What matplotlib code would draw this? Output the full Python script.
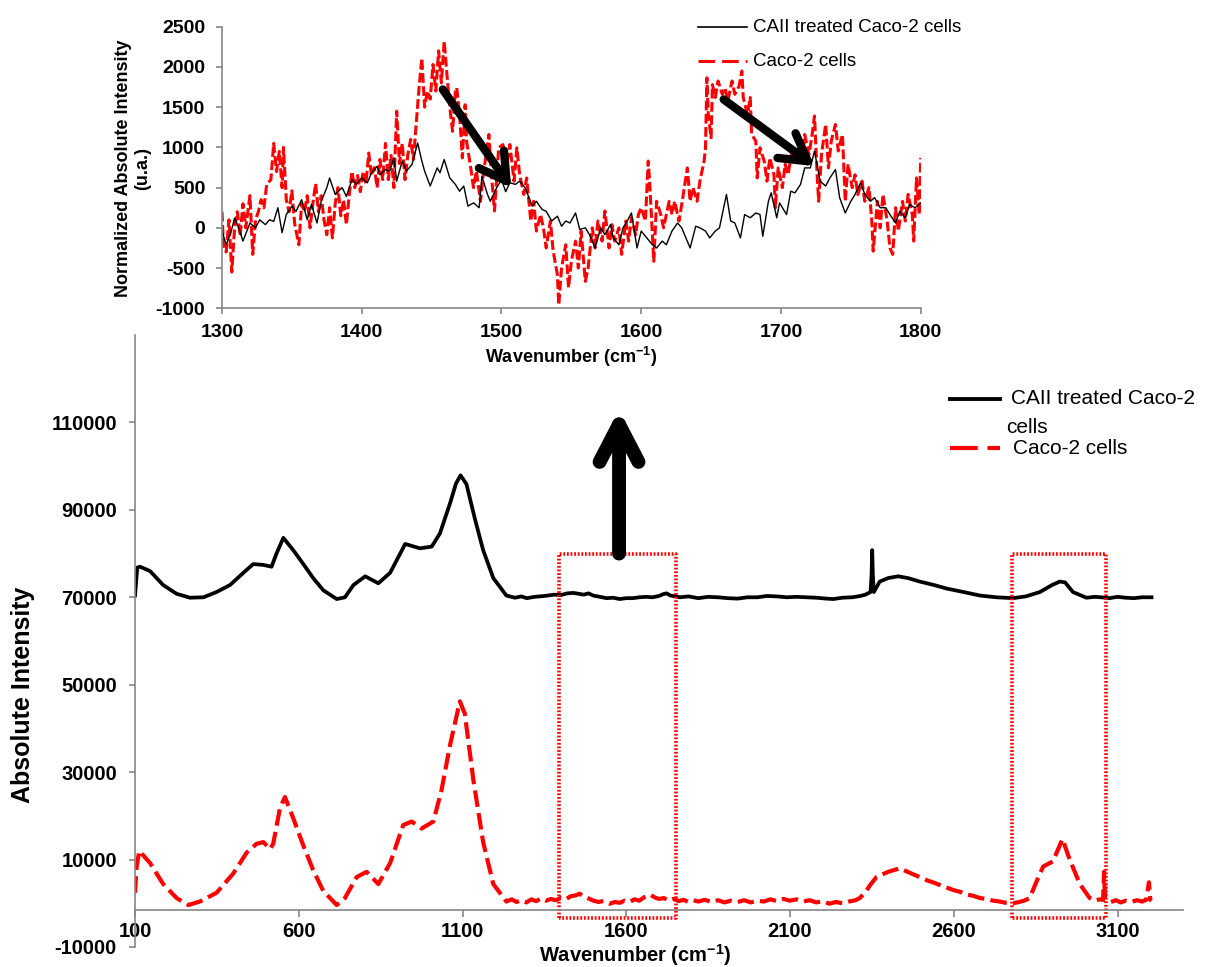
import matplotlib
matplotlib.use("Agg")
import matplotlib.pyplot as plt
from matplotlib.lines import Line2D

# ---------------- data ----------------
# main spectrum: CAII treated Caco-2 cells (wavenumber, absolute intensity)
treated_main = [
    (100, 70400), (107, 76800), (115, 77000), (146, 76000), (186, 72800), (227, 70800),
    (268, 69900), (309, 70000), (349, 71200), (390, 72800), (431, 75600), (461, 77600),
    (492, 77400), (517, 77000), (532, 80000), (553, 83600), (583, 80800), (614, 77600),
    (644, 74400), (675, 71600), (716, 69600), (741, 70000), (767, 72800), (803, 74800),
    (843, 73200), (879, 75600), (925, 82200), (970, 81200), (1006, 81600), (1031, 84600),
    (1062, 91500), (1080, 96000), (1094, 97900), (1112, 95900), (1138, 87900), (1163, 80800),
    (1194, 74400), (1234, 70400), (1260, 69900), (1280, 70200), (1296, 69800), (1320, 70100),
    (1350, 70300), (1380, 70600), (1400, 70500), (1420, 70900), (1438, 71000), (1455, 70800),
    (1470, 70600), (1485, 70900), (1499, 70400), (1520, 70100), (1540, 69800), (1560, 69900),
    (1580, 69600), (1600, 69800), (1620, 69800), (1640, 70000), (1660, 70100), (1680, 70000),
    (1700, 70300), (1712, 70700), (1723, 70900), (1735, 70400), (1750, 70200), (1764, 70000),
    (1790, 70200), (1820, 69800), (1850, 70100), (1880, 70000), (1910, 69800), (1940, 69700),
    (1970, 70000), (2000, 70000), (2030, 70300), (2060, 70200), (2090, 70000), (2120, 70100),
    (2150, 70000), (2180, 69900), (2210, 69700), (2232, 69600), (2260, 69900), (2290, 70000),
    (2315, 70300), (2330, 70600), (2346, 71200), (2349, 75000), (2351, 80800), (2353, 75000),
    (2356, 71200), (2374, 73600), (2400, 74400), (2430, 74800), (2460, 74400), (2496, 73600),
    (2540, 72800), (2578, 72000), (2630, 71200), (2680, 70400), (2730, 70000), (2781, 69800),
    (2820, 70200), (2863, 71200), (2900, 72800), (2924, 73600), (2940, 73400), (2964, 71200),
    (3005, 69900), (3030, 70100), (3050, 70000), (3075, 69800), (3100, 70100), (3125, 69900),
    (3150, 69800), (3175, 70000), (3204, 70000),
]

# main spectrum: Caco-2 cells
control_main = [
    (100, 2400), (105, 8400), (113, 12000), (146, 9200), (186, 4400), (227, 1200),
    (263, -400), (298, 400), (349, 2400), (400, 6800), (441, 11600), (471, 13600),
    (492, 14000), (512, 12400), (522, 13600), (543, 21900), (558, 24300), (583, 19500),
    (614, 13200), (644, 7600), (675, 2800), (716, -400), (741, 1200), (777, 6000),
    (807, 7200), (843, 4400), (879, 9200), (919, 17900), (945, 18700), (975, 17100),
    (1011, 18700), (1036, 25900), (1062, 36200), (1092, 46200), (1107, 43400), (1133, 28300),
    (1163, 14000), (1194, 4400), (1234, 400), (1250, 900), (1265, 300), (1280, 700),
    (1295, 200), (1310, 900), (1325, 500), (1340, 1100), (1355, 600), (1370, 1000),
    (1385, 700), (1400, 1200), (1415, 900), (1430, 1600), (1445, 1800), (1458, 2200),
    (1470, 1500), (1485, 1100), (1500, 600), (1515, 300), (1530, 500), (1550, -100),
    (1565, 300), (1580, 100), (1595, 600), (1610, 300), (1625, 900), (1640, 600),
    (1655, 1400), (1672, 2000), (1688, 1300), (1700, 1000), (1715, 1200), (1730, 600),
    (1745, 1000), (1760, 500), (1775, 800), (1790, 300), (1805, 700), (1820, 400),
    (1840, 800), (1860, 300), (1880, 700), (1900, 200), (1920, 600), (1940, 300),
    (1960, 700), (1980, 200), (2000, 600), (2020, 400), (2040, 900), (2060, 500),
    (2080, 1000), (2100, 600), (2120, 900), (2140, 400), (2160, 700), (2180, 200),
    (2200, 500), (2220, -100), (2240, 300), (2260, 0), (2280, 400), (2300, 700),
    (2313, 1200), (2330, 2500), (2345, 4200), (2364, 6000), (2400, 7200), (2435, 8000),
    (2465, 7000), (2496, 6000), (2520, 5200), (2540, 4700), (2560, 4100), (2578, 3600),
    (2600, 3000), (2620, 2600), (2640, 2000), (2660, 1700), (2680, 1200), (2700, 1000),
    (2720, 600), (2740, 400), (2760, 100), (2781, 0), (2800, 300), (2815, 600),
    (2832, 1200), (2850, 4500), (2873, 8400), (2903, 9600), (2932, 14700), (2954, 10000),
    (2985, 4400), (3015, 1200), (3030, 600), (3045, 900), (3056, 800), (3059, 7200),
    (3062, 800), (3080, 300), (3095, 700), (3110, 200), (3125, 600), (3140, 300),
    (3160, 700), (3175, 400), (3188, 800), (3196, 4800), (3200, 800), (3204, 600),
]

# inset (1300-1800 cm-1), normalized absolute intensity
treated_inset = [
    (1300, -40), (1303, -210), (1306, -80), (1309, 120), (1312, 0), (1315, -165), (1320, 60),
    (1324, 0), (1327, 100), (1331, 40), (1334, 100), (1337, 80), (1340, 250), (1343, -60),
    (1346, 165), (1350, 270), (1353, 205), (1357, 350), (1361, 100), (1364, 290), (1368, 60),
    (1371, 330), (1375, 500), (1377, 620), (1381, 415), (1386, 500), (1389, 390), (1393, 600),
    (1396, 540), (1400, 620), (1404, 560), (1407, 685), (1411, 765), (1413, 660), (1417, 725),
    (1420, 705), (1423, 870), (1425, 580), (1429, 830), (1432, 705), (1436, 790), (1440, 1055),
    (1443, 830), (1445, 705), (1449, 520), (1454, 745), (1456, 685), (1459, 850), (1463, 620),
    (1467, 540), (1470, 455), (1473, 520), (1476, 270), (1480, 310), (1484, 250), (1486, 640),
    (1490, 415), (1492, 330), (1496, 480), (1500, 600), (1503, 450), (1506, 560), (1510, 540),
    (1513, 580), (1517, 495), (1522, 270), (1525, 330), (1529, 230), (1532, 205), (1536, 85),
    (1540, 145), (1543, 20), (1546, 85), (1549, 60), (1553, 185), (1556, -20), (1560, 0),
    (1563, -85), (1567, -250), (1571, 0), (1574, -85), (1578, 40), (1580, -125), (1584, -210),
    (1587, 0), (1590, 85), (1593, 185), (1597, -250), (1600, -40), (1604, -125), (1608, -210),
    (1611, -250), (1615, -165), (1618, -210), (1622, -40), (1626, 60), (1629, 0), (1631, -85),
    (1635, -250), (1639, 20), (1642, 0), (1646, -40), (1649, -125), (1653, -40), (1656, 0),
    (1661, 415), (1664, 85), (1667, 60), (1671, -125), (1674, 165), (1678, 125), (1682, 185),
    (1685, 165), (1687, -105), (1691, 330), (1693, 435), (1697, 125), (1699, 310), (1704, 165),
    (1707, 455), (1710, 435), (1714, 540), (1717, 745), (1721, 745), (1724, 955), (1728, 580),
    (1732, 520), (1735, 620), (1739, 725), (1742, 375), (1746, 185), (1750, 330), (1753, 415),
    (1757, 560), (1760, 415), (1764, 330), (1767, 375), (1771, 250), (1775, 250), (1778, 165),
    (1782, 60), (1785, 205), (1789, 125), (1792, 290), (1796, 250), (1800, 310),
]

control_inset = [
    (1300, 200), (1301, -200), (1303, -300), (1305, 100), (1307, -550), (1309, 0), (1311, 200),
    (1313, -100), (1315, 300), (1317, 0), (1320, 400), (1322, -330), (1324, 100), (1326, 200),
    (1328, 350), (1330, 250), (1332, 540), (1335, 600), (1337, 1050), (1339, 700), (1341, 950),
    (1343, 500), (1344, 1000), (1346, 350), (1348, 200), (1350, 460), (1352, 50), (1355, -210),
    (1357, 300), (1359, 200), (1361, 400), (1363, 0), (1365, 300), (1367, 550), (1369, 200),
    (1371, 400), (1373, 100), (1375, -85), (1377, 250), (1379, -125), (1381, 300), (1383, 500),
    (1385, 150), (1387, 350), (1389, 40), (1391, 400), (1393, 700), (1395, 500), (1397, 650),
    (1399, 450), (1401, 700), (1403, 550), (1405, 930), (1407, 650), (1409, 750), (1411, 500),
    (1413, 850), (1415, 600), (1417, 1050), (1419, 600), (1421, 900), (1423, 500), (1425, 1450),
    (1427, 800), (1429, 1050), (1431, 600), (1433, 910), (1435, 1100), (1437, 850), (1439, 1290),
    (1441, 1740), (1443, 2110), (1445, 1500), (1447, 1700), (1449, 1600), (1451, 2030), (1453, 1700),
    (1455, 2200), (1457, 1800), (1459, 2320), (1461, 1900), (1463, 1500), (1465, 1200), (1467, 1700),
    (1468, 1740), (1470, 1410), (1472, 870), (1474, 1530), (1475, 1080), (1478, 745), (1480, 500),
    (1482, 705), (1485, 330), (1487, 660), (1491, 1160), (1493, 620), (1495, 210), (1498, 995),
    (1501, 1035), (1504, 790), (1506, 1035), (1509, 580), (1511, 995), (1513, 660), (1516, 415),
    (1518, 620), (1521, 85), (1523, 330), (1525, -40), (1528, 165), (1530, 0), (1532, -250),
    (1535, 85), (1537, -290), (1540, -580), (1541, -955), (1543, -500), (1546, -210), (1548, -745),
    (1550, -415), (1553, -165), (1555, -500), (1557, -40), (1560, -665), (1562, -500), (1565, 0),
    (1567, -250), (1569, 85), (1572, -165), (1574, 210), (1577, -250), (1579, 40), (1581, -165),
    (1584, 0), (1586, -330), (1589, 85), (1591, -165), (1593, 125), (1596, -85), (1598, 165),
    (1600, 250), (1603, 85), (1605, 830), (1606, 580), (1609, -415), (1611, 330), (1614, 165),
    (1616, 0), (1620, 330), (1622, 165), (1624, 330), (1627, 85), (1629, 290), (1633, 745),
    (1635, 330), (1637, 500), (1640, 330), (1642, 580), (1645, 830), (1646, 995), (1647, 1865),
    (1648, 1410), (1650, 1120), (1651, 1780), (1653, 1620), (1655, 1825), (1658, 1660), (1660, 1740),
    (1662, 1575), (1665, 1825), (1667, 1660), (1670, 1760), (1672, 1950), (1673, 1620), (1676, 1410),
    (1678, 1620), (1679, 1160), (1682, 1080), (1683, 620), (1685, 995), (1688, 830), (1690, 580),
    (1692, 870), (1695, 660), (1696, 250), (1698, 745), (1701, 500), (1703, 790), (1705, 660),
    (1708, 955), (1710, 830), (1713, 995), (1715, 790), (1717, 1160), (1720, 910), (1722, 1120),
    (1724, 1390), (1726, 620), (1727, 330), (1729, 910), (1732, 1285), (1734, 745), (1736, 1080),
    (1739, 1285), (1741, 955), (1744, 1160), (1746, 330), (1748, 790), (1751, 500), (1753, 660),
    (1755, 415), (1758, 580), (1760, 330), (1763, 500), (1765, 85), (1766, -290), (1769, 330),
    (1771, 0), (1773, 415), (1776, 85), (1778, -250), (1780, -330), (1782, 250), (1784, -40),
    (1787, 330), (1789, 85), (1791, 415), (1794, 165), (1795, -165), (1797, 620), (1799, 165),
    (1800, 870),
]

main_xticks = [100, 600, 1100, 1600, 2100, 2600, 3100]
main_yticks = [-10000, 10000, 30000, 50000, 70000, 90000, 110000]
inset_xticks = [1300, 1400, 1500, 1600, 1700, 1800]
inset_yticks = [-1000, -500, 0, 500, 1000, 1500, 2000, 2500]

series_labels = ["CAII treated Caco-2 cells", "Caco-2 cells"]

# highlighted spectral windows (wavenumber ranges) and arrows
zoom_windows = [(1394, 1751), (2779, 3066)]
inset_arrows = [((1458, 1720), (1507, 497)), ((1659, 1596), (1724, 767))]

# ---------------- style ----------------
plt.rcParams['font.family'] = ['Liberation Sans', 'DejaVu Sans']
plt.rcParams['mathtext.fontset'] = 'custom'
plt.rcParams['mathtext.rm'] = 'Liberation Sans'
plt.rcParams['mathtext.bf'] = 'Liberation Sans:bold'
plt.rcParams['lines.scale_dashes'] = False
plt.rcParams['axes.unicode_minus'] = False

W, H = 1218, 967
fig = plt.figure(figsize=(W / 100, H / 100), dpi=100)


def fx(p):
    return p / W


def fy(p):
    return 1 - p / H


AXCOL = '#868686'

# ---------------- main axes ----------------
ax = fig.add_axes([fx(135), fy(947), fx(1183) - fx(135), fy(335) - fy(947)])
bx, by = zip(*treated_main)
rx, ry = zip(*control_main)
ax.plot(rx, ry, color='red', lw=3.0, linestyle=(0, (12, 4.5)))
ax.plot(bx, by, color='black', lw=2.7, solid_joinstyle='round')
ax.set_xlim(100, 3300)
ax.set_ylim(-10000, 130000)
ax.set_xticks(main_xticks)
ax.set_yticks(main_yticks)
for s in ['top', 'right']:
    ax.spines[s].set_visible(False)
ax.spines['bottom'].set_position(('data', -1500))
for s in ['bottom', 'left']:
    ax.spines[s].set_color(AXCOL)
    ax.spines[s].set_linewidth(1.2)
ax.tick_params(axis='x', direction='out', length=5, width=1.2, color=AXCOL, pad=4, labelsize=14.5)
ax.tick_params(axis='y', direction='out', length=4, width=1.2, color=AXCOL, pad=9, labelsize=14.5)
for lbl in ax.get_xticklabels() + ax.get_yticklabels():
    lbl.set_fontweight('bold')

# dotted windows
for (x0, x1) in zoom_windows:
    ax.plot([x0, x0, x1, x1, x0], [-3400, 80000, 80000, -3400, -3400], color='red',
            lw=2.6, linestyle=(0, (1.3, 1.3)), clip_on=False)

# big upward arrow
ax.annotate('', xy=(1578, 113000), xytext=(1578, 80000),
            arrowprops=dict(arrowstyle='->,head_length=1.35,head_width=0.7', lw=10,
                            color='black', mutation_scale=20, shrinkA=0, shrinkB=0,
                            capstyle='round', joinstyle='round'))

fig.text(fx(23), fy(695), 'Absolute Intensity', rotation=90, ha='center', va='center',
         fontsize=18, fontweight='bold')
fig.text(fx(635), fy(955), r'Wavenumber (cm$^{\mathbf{-1}}$)', ha='center', va='center',
         fontsize=14.5, fontweight='bold')

# main legend (manual)
fig.add_artist(Line2D([fx(950), fx(1000)], [fy(399), fy(399)], color='black', lw=2.8))
fig.text(fx(1011), fy(399), 'CAII treated Caco-2', ha='left', va='center', fontsize=15)
fig.text(fx(1006), fy(428), 'cells', ha='left', va='center', fontsize=15)
fig.add_artist(Line2D([fx(950), fx(1000)], [fy(448), fy(448)], color='red', lw=3,
                      linestyle=(0, (20, 7))))
fig.text(fx(1013), fy(448), series_labels[1], ha='left', va='center', fontsize=15)

# ---------------- inset axes ----------------
axi = fig.add_axes([fx(222), fy(308.3), fx(920.7) - fx(222), fy(26.7) - fy(308.3)])
ibx, iby = zip(*treated_inset)
irx, iry = zip(*control_inset)
axi.plot(irx, iry, color='red', lw=2.2, linestyle=(0, (7, 2.5)))
axi.plot(ibx, iby, color='black', lw=1.0)
axi.set_xlim(1300, 1800)
axi.set_ylim(-1000, 2500)
axi.set_xticks(inset_xticks)
axi.set_yticks(inset_yticks)
for s in ['top', 'right']:
    axi.spines[s].set_visible(False)
for s in ['bottom', 'left']:
    axi.spines[s].set_color(AXCOL)
    axi.spines[s].set_linewidth(1.2)
axi.tick_params(axis='x', direction='out', length=4, width=1.2, color=AXCOL, pad=7, labelsize=14)
axi.tick_params(axis='y', direction='out', length=4, width=1.2, color=AXCOL, pad=8, labelsize=14)
for lbl in axi.get_xticklabels() + axi.get_yticklabels():
    lbl.set_fontweight('bold')

for (tail, tip) in inset_arrows:
    axi.annotate('', xy=tip, xytext=tail,
                 arrowprops=dict(arrowstyle='->,head_length=0.95,head_width=0.55', lw=6,
                                 color='black', mutation_scale=20, shrinkA=0, shrinkB=0,
                                 capstyle='round', joinstyle='round'))

fig.text(fx(133), fy(168), 'Normalized Absolute Intensity\n(u.a.)', rotation=90,
         ha='center', va='center', fontsize=13, fontweight='bold', linespacing=1.15,
         multialignment='center')
fig.text(fx(571), fy(357), r'Wavenumber (cm$^{\mathbf{-1}}$)', ha='center', va='center',
         fontsize=13, fontweight='bold')

# inset legend (manual)
fig.add_artist(Line2D([fx(698), fx(747)], [fy(27), fy(27)], color='black', lw=1.2))
fig.text(fx(753), fy(27), series_labels[0], ha='left', va='center', fontsize=13.5)
fig.add_artist(Line2D([fx(698), fx(747)], [fy(61), fy(61)], color='red', lw=2.2,
                      linestyle=(0, (12, 5))))
fig.text(fx(753), fy(61), series_labels[1], ha='left', va='center', fontsize=13.5)

fig.savefig('out.png', dpi=100)
